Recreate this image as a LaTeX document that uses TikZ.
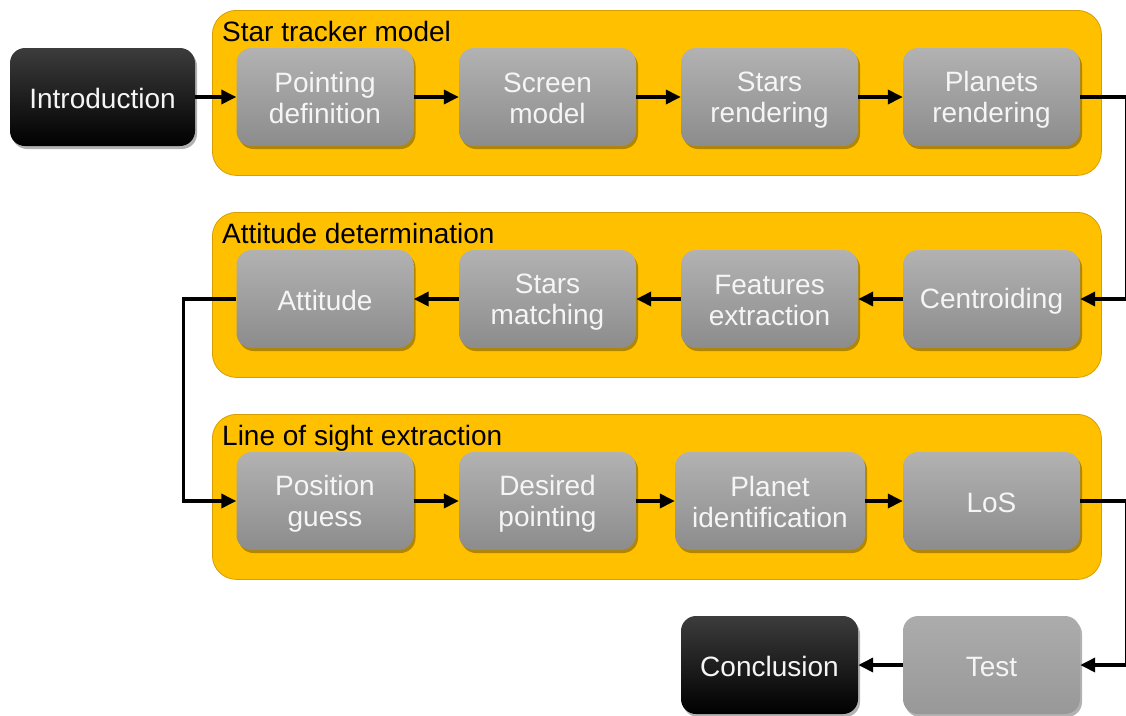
\documentclass[tikz,border=0pt]{standalone}
\usepackage{fontspec}
\setmainfont{Liberation Sans}
\usetikzlibrary{arrows.meta,shadows}

\definecolor{panelfill}{RGB}{255,192,0}
\definecolor{paneledge}{RGB}{214,158,0}
\definecolor{graytop}{RGB}{178,178,178}
\definecolor{graybot}{RGB}{140,140,140}
\definecolor{testtop}{RGB}{172,172,172}
\definecolor{testbot}{RGB}{152,152,152}
\definecolor{blacktop}{RGB}{60,60,60}
\definecolor{blackbot}{RGB}{0,0,0}

% strut that keeps every line of a box at the same baseline
\newcommand\bx{\rule[-3pt]{0pt}{28pt}}
\newcommand\two[2]{\bx#1\\\bx#2}

\tikzset{
  panel/.style={draw=paneledge, line width=0.8pt, fill=panelfill,
    rounded corners=24pt, minimum width=889pt, minimum height=165pt,
    anchor=north west, inner sep=0pt},
  paneltitle/.style={anchor=base west, inner sep=0pt, text=black,
    font=\fontsize{28}{31}\selectfont},
  stepbox/.style={rounded corners=15pt, minimum width=177pt, minimum height=98pt,
    inner sep=0pt, align=center, text=white!96!black,
    top color=graytop, bottom color=graybot,
    font=\fontsize{28}{31}\selectfont, execute at begin node=\bx,
    drop shadow={shadow xshift=2pt, shadow yshift=-3pt, opacity=0.3, fill=black}},
  testbox/.style={stepbox, top color=testtop, bottom color=testbot},
  endbox/.style={stepbox, top color=blacktop, bottom color=blackbot},
  arr/.style={line width=3.5pt, -{Triangle[length=15pt,width=14pt]}},
}

\begin{document}
\begin{tikzpicture}[x=1pt,y=-1pt]
\useasboundingbox (0,0) rectangle (1126,715);

% group panels
\node[panel] (p1) at (212,10) {};
\node[panel] (p2) at (212,212) {};
\node[panel] (p3) at (212,414) {};
\node[paneltitle] (t1) at (222,41) {Star tracker model};
\node[paneltitle] (t2) at (222,243) {Attitude determination};
\node[paneltitle] (t3) at (222,445) {Line of sight extraction};

% row 1
\node[endbox, minimum width=185pt] (intro) at (102.5,97) {Introduction};
\node[stepbox] (point)  at (325,97)   {\two{Pointing}{definition}};
\node[stepbox] (screen) at (547.5,97) {\two{Screen}{model}};
\node[stepbox] (stars)  at (769.5,97) {\two{Stars}{rendering}};
\node[stepbox] (planets) at (991.5,97) {\two{Planets}{rendering}};

% row 2
\node[stepbox] (attitude) at (325,299)   {Attitude};
\node[stepbox] (match)    at (547.5,299) {\two{Stars}{matching}};
\node[stepbox] (feat)     at (769.5,299) {\two{Features}{extraction}};
\node[stepbox] (centroid) at (991.5,299) {Centroiding};

% row 3
\node[stepbox] (guess)   at (325,501)   {\two{Position}{guess}};
\node[stepbox] (desired) at (547.5,501) {\two{Desired}{pointing}};
\node[stepbox, minimum width=190pt] (planetid) at (770,501) {\two{Planet}{identification}};
\node[stepbox] (los)     at (991.5,501) {LoS};

% row 4
\node[endbox]  (concl) at (769.5,665) {Conclusion};
\node[testbox] (test)  at (991.5,665) {Test};

% bend points
\coordinate (e1) at (1127,97);
\coordinate (e2) at (1127,501);
\coordinate (c1) at (183.5,299);

% connectors
\draw[arr] (intro) -- (point);
\draw[arr] (point) -- (screen);
\draw[arr] (screen) -- (stars);
\draw[arr] (stars) -- (planets);
\draw[arr] (planets.east) -- (e1) |- (centroid.east);
\draw[arr] (centroid) -- (feat);
\draw[arr] (feat) -- (match);
\draw[arr] (match) -- (attitude);
\draw[arr] (attitude.west) -- (c1) |- (guess.west);
\draw[arr] (guess) -- (desired);
\draw[arr] (desired) -- (planetid);
\draw[arr] (planetid) -- (los);
\draw[arr] (los.east) -- (e2) |- (test.east);
\draw[arr] (test) -- (concl);
\end{tikzpicture}
\end{document}
